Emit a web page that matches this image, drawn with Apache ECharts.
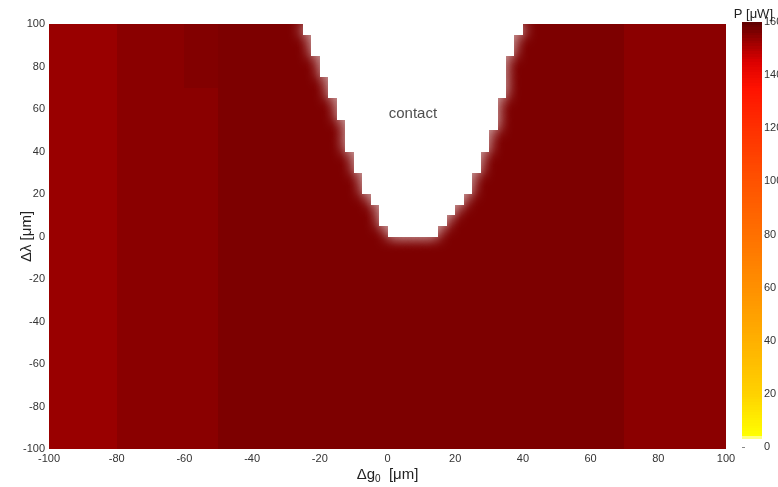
<!DOCTYPE html>
<html>
<head>
<meta charset="utf-8">
<script src="https://cdn.jsdelivr.net/npm/echarts@6/dist/echarts.min.js"></script>
<style>
  html, body { margin: 0; padding: 0; background: #fff; }
  #chart { width: 778px; height: 487px; }
</style>
</head>
<body>
<div id="chart"></div>
<script>
// Power map P [uW] over the offsets dg0 / dlambda
const axisTicks = [-100, -80, -60, -40, -20, 0, 20, 40, 60, 80, 100];
const colorbarTicks = [0, 20, 40, 60, 80, 100, 120, 140, 160];

// vertical bands of nearly constant power (x edges in um, P in uW)
const bandEdges = [-100, -80, -50, 70, 100];
const bandPower = [153, 154.8, 156.3, 154.6];

// small darker patch at the top of the -60..-50 column
const patchX = [-60, -50];
const patchYmin = 70;
const patchPower = 155.7;

// contact region (white): left / right edge per 5 um row
const contactRowsY = [2.5, 7.5, 12.5, 17.5, 22.5, 27.5, 32.5, 37.5, 42.5, 47.5,
                      52.5, 57.5, 62.5, 67.5, 72.5, 77.5, 82.5, 87.5, 92.5, 97.5];
const contactLeft  = [1, -1.5, -3, -5, -6.5, -8, -9.5, -10.5, -11.5, -12.5,
                      -13.5, -15, -16, -17, -18, -19, -20.5, -21.5, -23, -25];
const contactRight = [15, 18.5, 20.5, 22.5, 24, 25.5, 27, 28, 29.5, 30.5,
                      31.5, 32.5, 33, 34, 34.5, 35, 36, 37, 38, 39];

// colormap stops (P -> colour)
const cmapStops  = [0, 3, 4, 20, 40, 60, 80, 100, 120, 135, 145, 160];
const cmapColors = ['#ffffff', '#ffffff', '#ffff00', '#ffd200', '#ffb000', '#ff9000',
                    '#ff7000', '#ff5200', '#ff3000', '#ff1200', '#dc0000', '#5e0000'];

const cellW = 2.5;
const cellH = 5;

function hexToRgb(h) {
    return [parseInt(h.slice(1, 3), 16), parseInt(h.slice(3, 5), 16), parseInt(h.slice(5, 7), 16)];
}

function powerColor(v) {
    if (v <= cmapStops[0]) return cmapColors[0];
    for (let i = 1; i < cmapStops.length; i++) {
        if (v <= cmapStops[i]) {
            const t = (v - cmapStops[i - 1]) / (cmapStops[i] - cmapStops[i - 1]);
            const a = hexToRgb(cmapColors[i - 1]);
            const b = hexToRgb(cmapColors[i]);
            const c = a.map((ai, k) => Math.round(ai + (b[k] - ai) * t));
            return 'rgb(' + c.join(',') + ')';
        }
    }
    return cmapColors[cmapColors.length - 1];
}

function isContact(x, y) {
    const row = contactRowsY.indexOf(y);
    return row >= 0 && x > contactLeft[row] && x < contactRight[row];
}

function cellPower(x, y) {
    if (x > patchX[0] && x < patchX[1] && y > patchYmin) return patchPower;
    for (let i = 0; i < bandPower.length; i++) {
        if (x >= bandEdges[i] && x < bandEdges[i + 1]) return bandPower[i];
    }
    return bandPower[bandPower.length - 1];
}

// build the cell tables (field and contact cells)
const cells = [];
const contactCells = [];
for (let x = -100 + cellW / 2; x < 100; x += cellW) {
    for (let y = -100 + cellH / 2; y < 100; y += cellH) {
        if (isContact(x, y)) contactCells.push([x, y, 0]);
        else cells.push([x, y, cellPower(x, y)]);
    }
}

// colorbar strips
const barCells = [];
for (let v = 0; v < 160; v += 1) barCells.push([0.5, v + 0.5, v + 0.5]);

function cellRect(api, x, y, w, h) {
    const p0 = api.coord([x - w / 2, y + h / 2]);
    const p1 = api.coord([x + w / 2, y - h / 2]);
    const x0 = Math.round(p0[0]), y0 = Math.round(p0[1]);
    return { x: x0, y: y0, width: Math.round(p1[0]) - x0, height: Math.round(p1[1]) - y0 };
}

function renderCell(params, api) {
    return {
        type: 'rect',
        shape: cellRect(api, api.value(0), api.value(1), cellW, cellH),
        style: { fill: powerColor(api.value(2)) }
    };
}

function renderContact(params, api) {
    return {
        type: 'rect',
        shape: cellRect(api, api.value(0), api.value(1), cellW, cellH),
        style: { fill: '#ffffff', shadowBlur: 14, shadowColor: '#ffffff' }
    };
}

function renderBar(params, api) {
    return {
        type: 'rect',
        shape: cellRect(api, api.value(0), api.value(1), 1, 1),
        style: { fill: powerColor(api.value(2)) }
    };
}

const labelFont = "'Liberation Sans Narrow', 'Liberation Sans', Arial, sans-serif";

const chart = echarts.init(document.getElementById('chart'));
chart.setOption({
    animation: false,
    backgroundColor: '#ffffff',
    title: {
        text: 'P [\u03bcW]',
        right: 0,
        top: 3,
        textStyle: { fontSize: 13, fontWeight: 'normal', color: '#222', fontFamily: labelFont }
    },
    grid: [
        { left: 49, right: 52, top: 24, bottom: 38, outerBoundsMode: 'none' },
        { left: 742, width: 20, top: 22, height: 425, outerBoundsMode: 'none' }
    ],
    xAxis: [
        {
            type: 'value', gridIndex: 0, min: -100, max: 100, interval: 20,
            splitLine: { show: false }, axisLine: { show: false }, axisTick: { show: false },
            axisLabel: { fontSize: 11, color: '#333', margin: 4, fontFamily: labelFont },
            name: '\u0394g{sub|0}  [\u03bcm]',
            nameLocation: 'middle', nameGap: 17, nameMoveOverlap: false,
            nameTextStyle: {
                fontSize: 15, color: '#222', fontFamily: 'Liberation Sans, Arial',
                rich: { sub: { fontSize: 10, verticalAlign: 'bottom', padding: [8, 0, 0, 0] } }
            }
        },
        { type: 'value', gridIndex: 1, min: 0, max: 1, show: false }
    ],
    yAxis: [
        {
            type: 'value', gridIndex: 0, min: -100, max: 100, interval: 20,
            splitLine: { show: false }, axisLine: { show: false }, axisTick: { show: false },
            axisLabel: { fontSize: 11, color: '#333', margin: 4, fontFamily: labelFont },
            name: '\u0394\u03bb [\u03bcm]',
            nameLocation: 'middle', nameGap: 15, nameRotate: 90, nameMoveOverlap: false,
            nameTextStyle: { fontSize: 15, color: '#222', fontFamily: 'Liberation Sans, Arial' }
        },
        {
            type: 'value', gridIndex: 1, min: 0, max: 160, interval: 20, position: 'right',
            splitLine: { show: false },
            axisLine: { show: false },
            axisTick: { show: true, length: 3, lineStyle: { color: '#888' } },
            axisLabel: { fontSize: 11, color: '#333', margin: 2, fontFamily: labelFont }
        }
    ],
    series: [
        {
            type: 'custom', xAxisIndex: 0, yAxisIndex: 0, clip: true,
            renderItem: renderCell, data: cells, silent: true, z: 2
        },
        {
            type: 'custom', xAxisIndex: 0, yAxisIndex: 0, clip: true,
            renderItem: renderContact, data: contactCells, silent: true, z: 3
        },
        {
            type: 'scatter', xAxisIndex: 0, yAxisIndex: 0, symbolSize: 0,
            data: [[7.5, 57.5]], silent: true, z: 4,
            label: {
                show: true, position: 'inside', formatter: 'contact',
                fontSize: 15, color: '#222', fontFamily: 'Liberation Sans, Arial'
            }
        },
        {
            type: 'custom', xAxisIndex: 1, yAxisIndex: 1, clip: true,
            renderItem: renderBar, data: barCells, silent: true
        }
    ]
});
</script>
</body>
</html>
